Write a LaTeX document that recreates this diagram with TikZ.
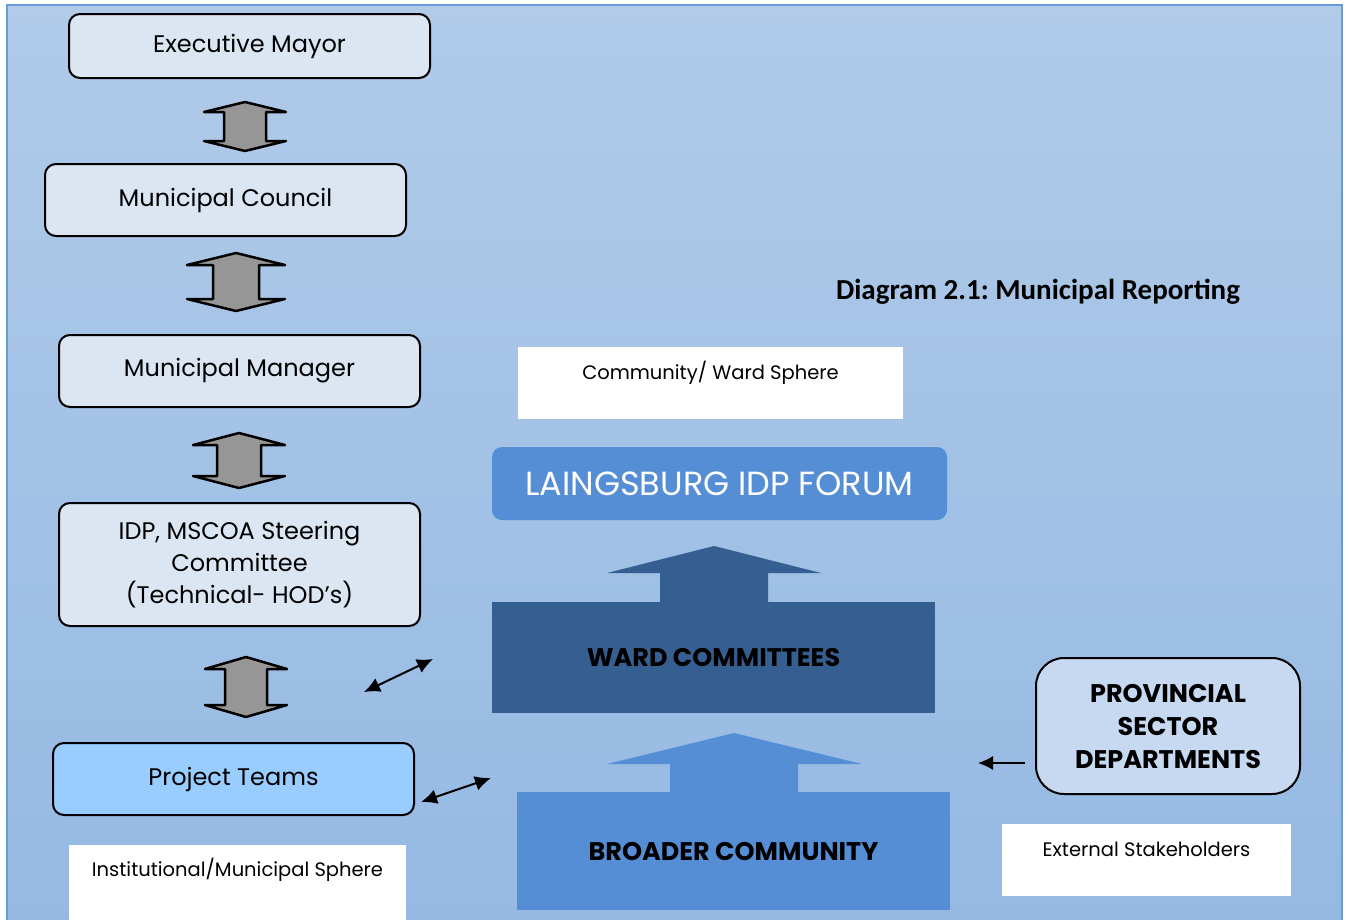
\documentclass[tikz,border=0pt]{standalone}
\usepackage{fontspec}
\setmainfont{Poppins}
\newfontfamily\titlefont{Carlito}
\usetikzlibrary{positioning,arrows.meta}

\definecolor{bgtop}{HTML}{B1CBE9}
\definecolor{bgbot}{HTML}{95B9E3}
\definecolor{bgedge}{HTML}{6A9BD6}
\definecolor{palebox}{HTML}{DCE6F2}
\definecolor{teambox}{HTML}{99CCFF}
\definecolor{forumblue}{HTML}{558ED5}
\definecolor{wardblue}{HTML}{365F91}
\definecolor{provbox}{HTML}{C6D9F1}
\definecolor{arrowgrey}{HTML}{969696}

% up-down block arrow: centre x, top y, bottom y, half head, half shaft, head length
\newcommand{\updown}[6]{%
  \draw[blockarrow] (#1,#2) -- (#1+#4,#2+#6) -- (#1+#5,#2+#6) -- (#1+#5,#3-#6)
    -- (#1+#4,#3-#6) -- (#1,#3) -- (#1-#4,#3-#6) -- (#1-#5,#3-#6)
    -- (#1-#5,#2+#6) -- (#1-#4,#2+#6) -- cycle;}

\tikzset{
  levelbox/.style={draw=black, line width=2pt, rounded corners=11pt, fill=palebox,
    align=center, inner sep=0pt, minimum width=361pt, minimum height=72pt,
    font=\fontsize{24}{32}\selectfont},
  blockarrow/.style={draw=black, line width=2.5pt, line join=round, fill=arrowgrey},
  sphere/.style={fill=white, inner sep=0pt},
  spheretext/.style={font=\fontsize{19.5}{22}\selectfont},
  bigblock/.style={inner sep=0pt, font=\bfseries\fontsize{25.5}{30}\selectfont},
  link/.style={{Latex[length=16pt,width=15pt]}-{Latex[length=16pt,width=15pt]}, line width=2pt}
}

\begin{document}
\begin{tikzpicture}[x=1pt,y=-1pt]
  \useasboundingbox (0,0) rectangle (1349,919);
  \fill[white] (0,0) rectangle (1349,919);
  \shade[top color=bgtop, bottom color=bgbot] (7,5) rectangle (1342,930);
  \draw[bgedge, line width=2pt] (7,930) -- (7,5) -- (1342,5) -- (1342,930);

  % institutional side
  \node[levelbox, minimum height=64pt] (mayor) at (249.5,46) {Executive Mayor};
  \node[levelbox] (council) at (225.5,200) {Municipal Council};
  \node[levelbox] (manager) at (239.5,371) {Municipal Manager};
  \node[levelbox, minimum height=123pt] (steering) at (239.5,564.5)
    {IDP, MSCOA Steering\\Committee\\(Technical- HOD's)};
  \node[levelbox, fill=teambox] (teams) at (233.5,779) {Project Teams};

  \updown{245}{102}{151}{41}{21}{10}
  \updown{236}{253}{311}{49}{23}{12}
  \updown{239}{433}{488}{46}{22}{12}
  \updown{246}{657}{717}{41}{21}{12}

  \node[sphere, minimum width=337pt, minimum height=84pt] (inst) at (237.5,887) {};
  \node[spheretext] at ([yshift=-25pt]inst.north) {Institutional/Municipal Sphere};

  % community side
  \node[font=\titlefont\bfseries\fontsize{29}{34}\selectfont\frenchspacing] (title)
    at (1038,292) {Diagram 2.1: Municipal Reporting};

  \node[sphere, minimum width=385pt, minimum height=72pt] (comm) at (710.5,383) {};
  \node[spheretext] at ([yshift=-26pt]comm.north) {Community/ Ward Sphere};

  \node[fill=forumblue, rounded corners=10pt, inner sep=0pt, minimum width=455pt,
    minimum height=73pt, text=white, font=\fontsize{33.5}{38}\selectfont] (forum)
    at (719.5,483.5) {LAINGSBURG IDP FORUM};

  \node[bigblock, fill=wardblue, minimum width=443pt, minimum height=111pt] (ward)
    at (713.5,657.5) {WARD COMMITTEES};
  \fill[wardblue] (660,603) -- (660,573) -- (607,573) -- (714,546) -- (821,573)
    -- (768,573) -- (768,603) -- cycle;

  \node[bigblock, fill=forumblue, minimum width=433pt, minimum height=118pt] (broad)
    at (733.5,851) {BROADER COMMUNITY};
  \fill[forumblue] (670,793) -- (670,764) -- (607,764) -- (734,733) -- (862,764)
    -- (798,764) -- (798,793) -- cycle;

  % external side
  \node[draw=black, line width=2pt, rounded corners=28pt, fill=provbox, align=center,
    inner sep=0pt, minimum width=264pt, minimum height=136pt,
    font=\bfseries\fontsize{25.5}{33}\selectfont] (prov) at (1168,726)
    {PROVINCIAL\\SECTOR\\DEPARTMENTS};

  \node[sphere, minimum width=289pt, minimum height=72pt] (ext) at (1146.5,860) {};
  \node[spheretext] at ([yshift=-26pt]ext.north) {External Stakeholders};

  % small connectors
  \coordinate (s1) at (364,692);
  \coordinate (e1) at (433,659);
  \coordinate (s2) at (421,802);
  \coordinate (e2) at (491,778);
  \coordinate (s3) at (1025,763);
  \coordinate (e3) at (978,763);
  \draw[link] (s1) -- (e1);
  \draw[link] (s2) -- (e2);
  \draw[-{Latex[length=15pt,width=14pt]}, line width=1.6pt] (s3) -- (e3);
\end{tikzpicture}
\end{document}
